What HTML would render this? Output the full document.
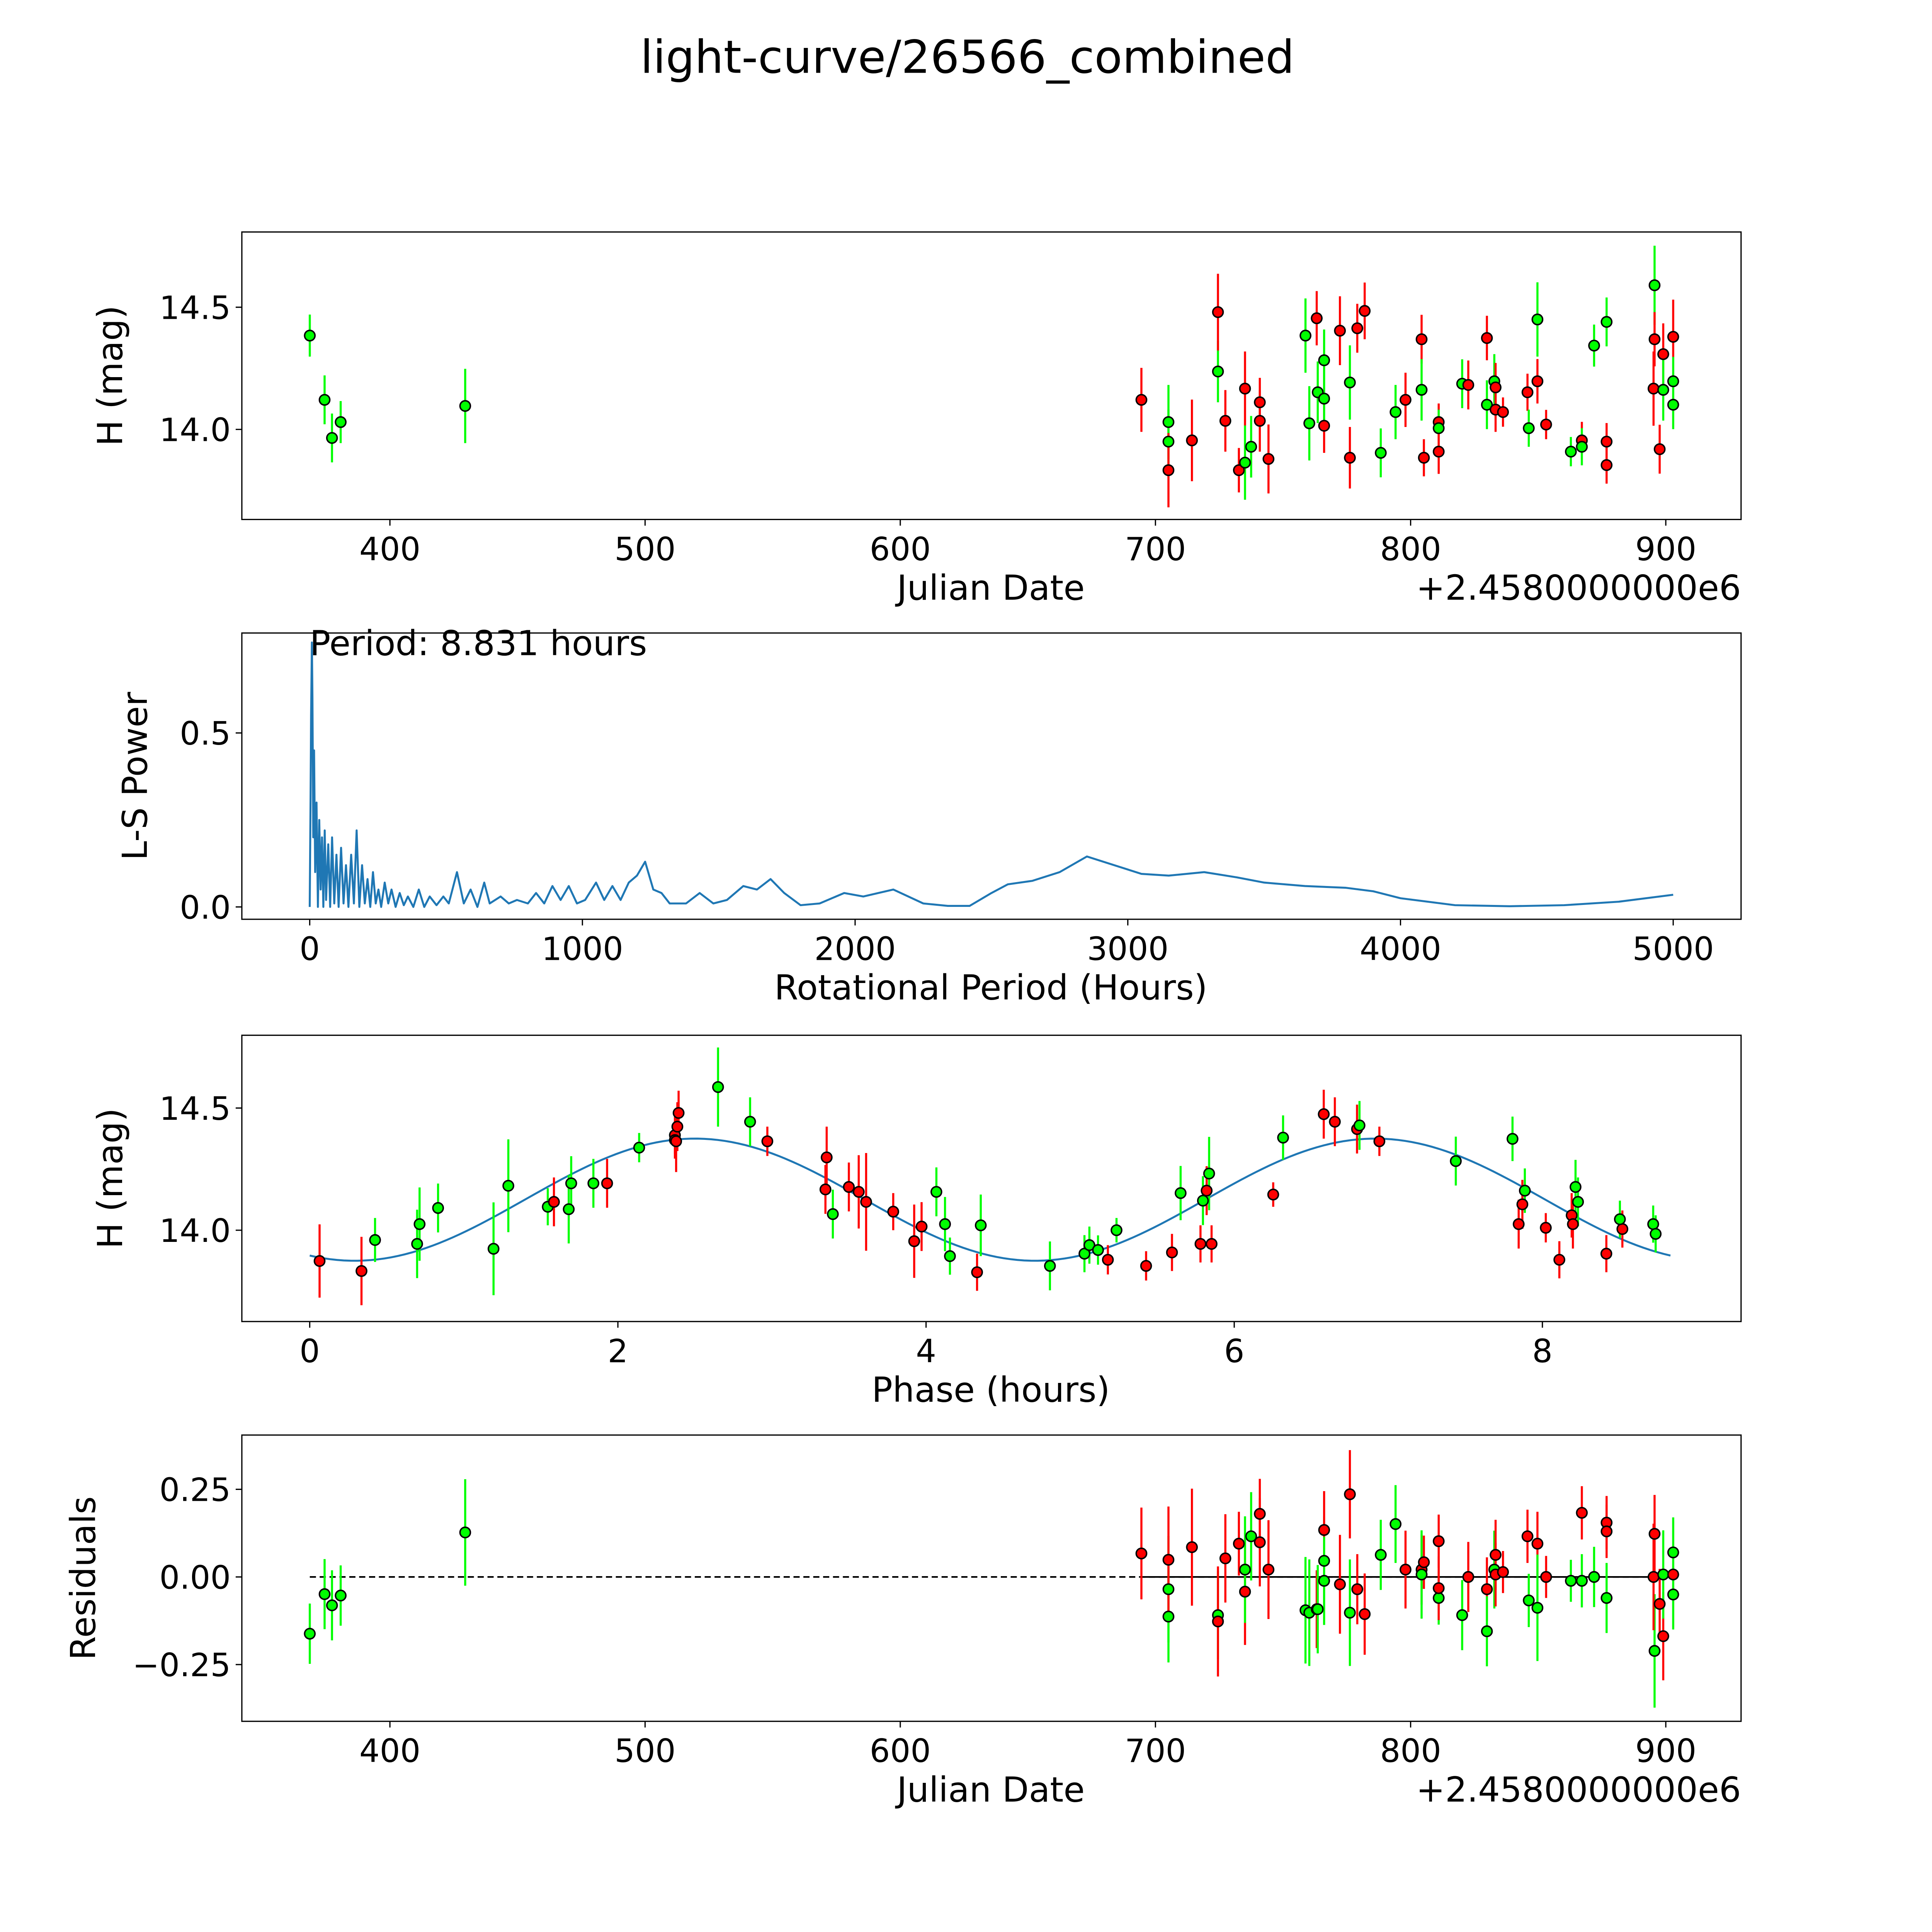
<!DOCTYPE html>
<html><head><meta charset="utf-8"><style>
html,body{margin:0;padding:0;background:#fff;overflow:hidden;width:5400px;height:5400px}
svg{display:block;font-family:"DejaVu Sans","Liberation Sans",sans-serif}
</style></head><body>
<svg id="fig" width="5400" height="5400" viewBox="0 0 1691 1691" xmlns="http://www.w3.org/2000/svg">
<rect width="1691" height="1691" fill="#fff"/>
<text x="784" y="59" font-size="37" text-anchor="middle">light-curve/26566_combined</text>
</svg>
<script>
// Panel 1 / 4 data (Julian Date offset from 2458000)
const jd=[368.6,374.4,377.3,380.7,429.5,694.5,705.1,705.1,705.1,714.3,724.5,724.5,727.4,732.7,735.1,735.1,737.5,740.9,740.9,744.3,758.8,760.3,763.2,763.6,766.1,766.1,766.1,772.3,776.2,776.2,779.1,782,788.3,794.1,798,804.3,804.3,805.2,811,811,811,820.2,822.6,829.9,829.9,832.8,833.3,833.3,836.2,845.8,846.3,849.7,849.7,853.1,862.8,867.1,867.1,871.9,876.8,876.8,876.8,895.6,895.2,895.6,897.6,899,899,902.9,902.9,902.9];
const mag=[14.384,14.121,13.965,14.03,14.096,14.121,14.03,13.95,13.833,13.955,14.237,14.48,14.035,13.833,14.167,13.864,13.929,14.111,14.035,13.879,14.384,14.025,14.455,14.152,14.283,14.015,14.126,14.404,14.192,13.884,14.414,14.485,13.904,14.071,14.121,14.369,14.162,13.884,14.03,14.005,13.909,14.187,14.182,14.374,14.101,14.197,14.172,14.081,14.071,14.152,14.005,14.197,14.45,14.02,13.909,13.955,13.929,14.343,13.95,13.854,14.44,14.59,14.167,14.369,13.919,14.308,14.162,14.379,14.197,14.101];
const err=[0.086,0.1,0.1,0.086,0.152,0.131,0.152,0.131,0.152,0.167,0.126,0.157,0.126,0.091,0.152,0.152,0.126,0.1,0.126,0.141,0.152,0.152,0.111,0.126,0.126,0.111,0.126,0.141,0.152,0.126,0.1,0.116,0.1,0.111,0.111,0.1,0.126,0.076,0.076,0.076,0.091,0.1,0.1,0.091,0.1,0.111,0.1,0.091,0.06,0.076,0.076,0.091,0.152,0.06,0.06,0.076,0.076,0.086,0.076,0.076,0.1,0.162,0.152,0.111,0.1,0.126,0.126,0.152,0.1,0.1];
const col=["g","g","g","g","g","r","g","g","r","r","g","r","r","r","r","g","g","r","r","r","g","g","r","g","g","r","g","r","g","r","r","r","g","g","r","r","g","r","r","g","r","g","r","r","g","g","r","r","r","r","g","r","g","r","g","r","g","g","r","r","g","g","r","r","r","r","g","r","g","g"];
// Residuals (same observations)
const resid=[-0.162,-0.049,-0.081,-0.053,0.127,0.067,-0.035,-0.113,0.049,0.085,-0.109,-0.127,0.053,0.095,-0.042,0.021,0.116,0.18,0.099,0.021,-0.095,-0.102,-0.092,-0.092,0.046,0.134,-0.011,-0.021,-0.102,0.236,-0.035,-0.106,0.063,0.151,0.021,0.021,0.007,0.042,0.102,-0.06,-0.032,-0.109,0,-0.035,-0.155,0.021,0.063,0.007,0.014,0.116,-0.067,0.095,-0.088,0,-0.011,0.183,-0.011,0,0.155,0.13,-0.06,-0.211,0,0.123,-0.077,-0.169,0.007,0.007,0.07,-0.05];
// Phase-folded data
const phase=[0.064,0.336,0.424,0.697,0.713,0.833,1.193,1.289,1.545,1.585,1.681,1.697,1.841,1.93,2.138,2.37,2.37,2.386,2.394,2.378,2.65,2.858,2.97,3.347,3.355,3.395,3.499,3.563,3.611,3.787,3.923,3.971,4.067,4.123,4.155,4.331,4.355,4.804,5.028,5.06,5.116,5.18,5.236,5.428,5.596,5.652,5.781,5.797,5.821,5.837,5.853,6.253,6.317,6.581,6.653,6.797,6.813,6.942,7.438,7.806,7.846,7.87,7.886,8.022,8.11,8.19,8.198,8.215,8.231,8.415,8.519,8.503,8.719,8.735];
const pmag=[13.874,13.833,13.96,13.944,14.025,14.091,13.924,14.182,14.096,14.116,14.086,14.192,14.192,14.192,14.338,14.389,14.369,14.424,14.48,14.364,14.586,14.444,14.364,14.167,14.298,14.066,14.177,14.157,14.116,14.076,13.955,14.015,14.157,14.025,13.894,13.828,14.02,13.854,13.904,13.939,13.919,13.879,14.0,13.854,13.909,14.152,13.944,14.121,14.162,14.232,13.944,14.146,14.379,14.475,14.444,14.414,14.429,14.364,14.283,14.374,14.025,14.106,14.162,14.01,13.879,14.061,14.025,14.177,14.116,13.904,14.005,14.045,14.025,13.985];
const perr=[0.15,0.14,0.09,0.14,0.15,0.1,0.19,0.19,0.076,0.1,0.14,0.111,0.1,0.1,0.06,0.076,0.076,0.1,0.091,0.126,0.162,0.1,0.06,0.1,0.126,0.1,0.1,0.15,0.2,0.076,0.15,0.1,0.1,0.111,0.076,0.076,0.126,0.1,0.076,0.076,0.06,0.06,0.05,0.06,0.076,0.111,0.076,0.1,0.1,0.15,0.076,0.05,0.091,0.1,0.1,0.1,0.1,0.06,0.1,0.091,0.1,0.1,0.091,0.06,0.076,0.091,0.1,0.111,0.1,0.076,0.076,0.076,0.076,0.076];
const pcol=["r","r","g","g","g","g","g","g","g","r","g","g","g","r","g","r","r","r","r","r","g","g","r","r","r","g","r","r","r","r","r","r","g","g","g","r","g","g","g","g","g","r","g","r","r","g","r","g","r","g","r","r","g","r","r","r","g","r","g","g","r","r","g","r","r","r","r","g","g","r","r","g","g","g"];
// Periodogram
const lsPeriod=[0,3,5,8,10,13,16,20,25,30,35,40,45,50,55,60,68,75,82,90,98,106,115,124,133,142,152,162,172,182,192,202,212,222,232,242,252,262,275,288,300,315,330,345,360,380,400,420,440,465,490,510,540,565,590,615,640,660,700,730,760,800,830,860,890,920,950,980,1010,1050,1080,1110,1140,1170,1200,1230,1260,1290,1320,1380,1430,1480,1530,1590,1640,1690,1740,1800,1870,1960,2030,2140,2250,2340,2420,2500,2560,2650,2750,2850,2950,3050,3150,3280,3400,3500,3650,3800,3900,4000,4200,4400,4600,4800,5000];
const lsPower=[0,0.3,0.55,0.76,0.6,0.2,0.45,0.1,0.3,0,0.25,0.05,0.2,0,0.22,0.02,0.18,0,0.2,0.01,0.15,0,0.17,0.01,0.12,0,0.15,0.01,0.22,0,0.12,0.01,0.08,0,0.1,0.01,0.05,0,0.07,0.01,0.05,0,0.04,0.005,0.03,0,0.05,0,0.03,0.005,0.03,0.01,0.1,0.01,0.05,0,0.07,0.01,0.03,0.01,0.02,0.01,0.04,0.01,0.06,0.02,0.06,0.01,0.02,0.07,0.02,0.06,0.02,0.07,0.09,0.13,0.05,0.04,0.01,0.01,0.04,0.01,0.02,0.06,0.05,0.08,0.04,0.005,0.01,0.04,0.03,0.05,0.01,0.003,0.003,0.04,0.065,0.075,0.1,0.145,0.12,0.095,0.09,0.1,0.085,0.07,0.06,0.055,0.045,0.025,0.005,0.002,0.005,0.015,0.035];
const model=[14.125,0.25,4.4155,1.396]; // mean, amplitude, half-period, phase offset
const bestPeriod=8.831;
const jdTicks=[400,500,600,700,800,900];
const magTicks=[14.0,14.5];
const perTicks=[0,1000,2000,3000,4000,5000];
const powTicks=[0.0,0.5];
const phTicks=[0,2,4,6,8];
const resTicks=[-0.25,0.00,0.25];

const NS="http://www.w3.org/2000/svg";
const svg=document.getElementById('fig');
function el(tag,attrs,parent){const e=document.createElementNS(NS,tag);for(const k in attrs)e.setAttribute(k,attrs[k]);(parent||svg).appendChild(e);return e;}
function lin(d0,d1,p0,p1){return v=>p0+(v-d0)*(p1-p0)/(d1-d0);}
const X=[196,1411];
const jdX=lin(400,900,316,1350);
const panels=[
 {y0:188,y1:421,y:lin(14.0,14.5,348,249)},
 {y0:513,y1:745,y:lin(0,0.5,735,594),x:lin(0,5000,251,1356)},
 {y0:839,y1:1071,y:lin(14.0,14.5,997,898),x:lin(0,8,251,1250)},
 {y0:1163,y1:1395,y:lin(0,0.25,1278,1207)}
];
panels[0].x=jdX;panels[3].x=jdX;
function fmt(v,d){return (v<0?'\u2212':'')+Math.abs(v).toFixed(d);}
function axes(p,name,xt,xd,yt,yd,xlab,ylab,ylx,offset){
 const g=el('g',{});
 
 
 const f=el('rect',{x:X[0],y:p.y0,width:X[1]-X[0],height:p.y1-p.y0,fill:'none',stroke:'#000','stroke-width':1},g);
 
 
 xt.forEach(v=>{const px=p.x(v);
  el('line',{x1:px,x2:px,y1:p.y1,y2:p.y1+5,stroke:'#000'},g);
  const t=el('text',{x:px,y:p.y1+33,'font-size':26,'text-anchor':'middle'},g);t.textContent=fmt(v,xd);
  
  });
 yt.forEach(v=>{const py=p.y(v);
  el('line',{x1:X[0]-5,x2:X[0],y1:py,y2:py,stroke:'#000'},g);
  const t=el('text',{x:X[0]-9,y:py+9.5,'font-size':26,'text-anchor':'end'},g);t.textContent=fmt(v,yd);
  
  });
 const xl=el('text',{x:803,y:p.y1+65,'font-size':28,'text-anchor':'middle'},g);xl.textContent=xlab;
 
 
 const cy=(p.y0+p.y1)/2;
 const yl=el('text',{x:ylx,y:cy,'font-size':28,'text-anchor':'middle',transform:`rotate(-90 ${ylx} ${cy})`},g);yl.textContent=ylab;
 
 
 if(offset){const o=el('text',{x:X[1],y:p.y1+65,'font-size':28,'text-anchor':'end'},g);o.textContent=offset;
  
  }
}
function points(p,xs,ys,es,cs,name){
 const g=el('g',{});
 
 
 xs.forEach((v,i)=>{const c=cs[i]==='g'?'#00ff00':'#ff0000';const px=p.x(v);
  const l=el('line',{x1:px,x2:px,y1:p.y(ys[i]-es[i]),y2:p.y(ys[i]+es[i]),stroke:c,'stroke-width':1.7},g);
  
  });
 xs.forEach((v,i)=>{const c=cs[i]==='g'?'#00ff00':'#ff0000';
  const m=el('circle',{cx:p.x(v),cy:p.y(ys[i]),r:4.2,fill:c,stroke:'#000','stroke-width':1.2},g);
  
  });
}
axes(panels[0],'lightcurve-axes',jdTicks,0,magTicks,1,'Julian Date','H (mag)',99,'+2.4580000000e6');
points(panels[0],jd,mag,err,col,'lightcurve-points');

axes(panels[1],'periodogram-axes',perTicks,0,powTicks,1,'Rotational Period (Hours)','L-S Power',119);
const lsPts=lsPeriod.map((v,i)=>panels[1].x(v)+','+panels[1].y(lsPower[i])).join(' ');
const ls=el('polyline',{points:lsPts,fill:'none',stroke:'#1f77b4','stroke-width':1.6,'stroke-linejoin':'round'});


const ann=el('text',{x:panels[1].x(0),y:531,'font-size':28});
ann.textContent='Period: '+bestPeriod.toFixed(3)+' hours';



axes(panels[2],'phase-axes',phTicks,0,magTicks,1,'Phase (hours)','H (mag)',99);
const mp=[];for(let k=0;k<=200;k++){const ph=bestPeriod*k/200;mp.push(panels[2].x(ph)+','+panels[2].y(model[0]+model[1]*Math.sin(2*Math.PI*(ph-model[3])/model[2])));}
const ml=el('polyline',{points:mp.join(' '),fill:'none',stroke:'#1f77b4','stroke-width':1.6});


points(panels[2],phase,pmag,perr,pcol,'phase-points');

axes(panels[3],'residual-axes',jdTicks,0,resTicks,2,'Julian Date','Residuals',77,'+2.4580000000e6');
const z=panels[3].y(0);
const dl=el('line',{x1:jdX(Math.min(...jd)),x2:jdX(Math.max(...jd)),y1:z,y2:z,stroke:'#000','stroke-width':1.3,'stroke-dasharray':'5,3'});


const sl=el('line',{x1:jdX(694.5),x2:jdX(Math.max(...jd)),y1:z,y2:z,stroke:'#000','stroke-width':1.3});


points(panels[3],jd,resid,err,col,'residual-points');
</script>
</body></html>
